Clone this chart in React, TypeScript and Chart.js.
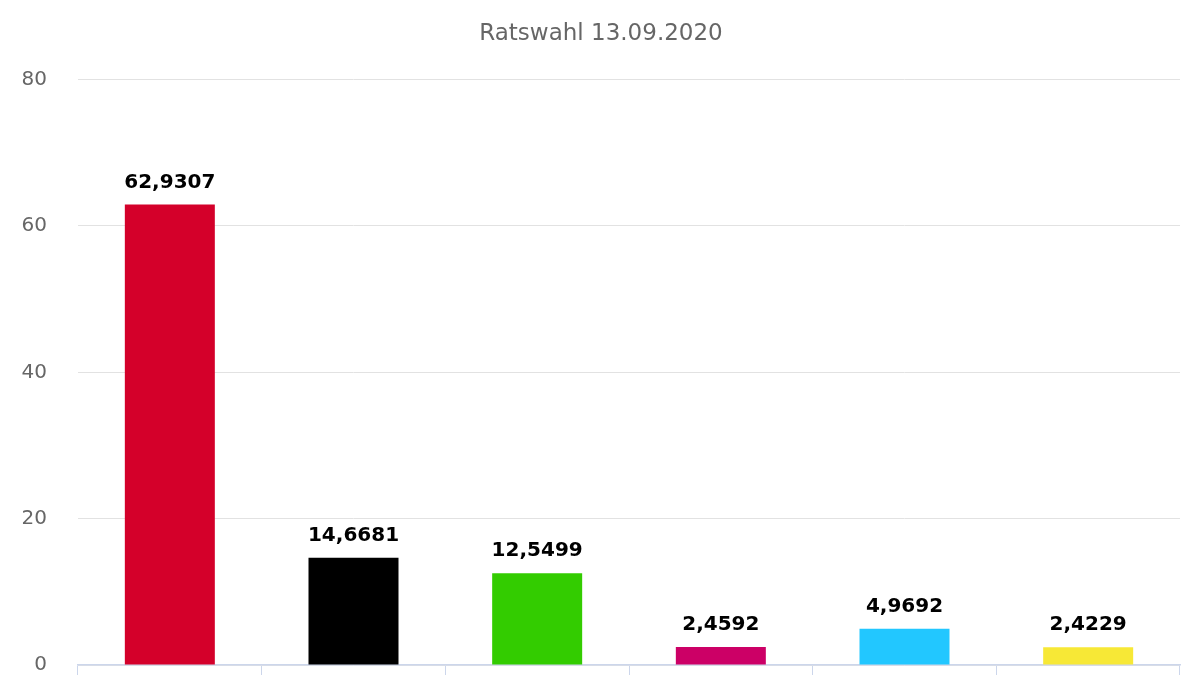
import React, { useEffect, useRef } from "react";
import { Chart, registerables } from "chart.js";

Chart.register(...registerables);

const categories = ["SPD", "CDU", "GRÜNE", "DIE LINKE", "Wählergemeinschaft", "FDP"];
const values = [62.9307, 14.6681, 12.5499, 2.4592, 4.9692, 2.4229];
const colors = ["#d4002a", "#000000", "#33cc00", "#cc0066", "#22c7ff", "#f7e836"];
const yTicks = [0, 20, 40, 60, 80];

const FONT = "'DejaVu Sans', Verdana, sans-serif";

// draws the value above each bar, German decimal comma
const valueLabels = {
  id: "valueLabels",
  afterDatasetsDraw(chart: Chart) {
    const ctx = chart.ctx;
    const meta = chart.getDatasetMeta(0);
    ctx.save();
    ctx.font = `bold 20px ${FONT}`;
    ctx.textAlign = "center";
    ctx.textBaseline = "bottom";
    ctx.fillStyle = "#000000";
    meta.data.forEach((bar: any, i: number) => {
      const text = values[i].toFixed(4).replace(".", ",");
      ctx.fillText(text, bar.x, bar.y - 12);
    });
    ctx.restore();
  },
};

const App: React.FC = () => {
  const chartRef = useRef<HTMLCanvasElement>(null);
  const chartInstance = useRef<Chart<"bar"> | null>(null);

  useEffect(() => {
    document.body.style.margin = "0";
    if (chartRef.current) {
      const ctx = chartRef.current.getContext("2d");
      if (ctx) {
        chartInstance.current = new Chart(ctx, {
          type: "bar",
          data: {
            labels: categories,
            datasets: [
              {
                label: "Ratswahl",
                data: values,
                backgroundColor: colors,
                borderWidth: 0,
                categoryPercentage: 1,
                barPercentage: 0.49,
              },
            ],
          },
          options: {
            responsive: true,
            maintainAspectRatio: false,
            animation: false,
            layout: { padding: { left: 22, right: 20, top: 0, bottom: 0 } },
            scales: {
              x: {
                afterFit: (axis: any) => {
                  axis.height = 10;
                  axis.paddingLeft = 0;
                  axis.paddingRight = 0;
                },
                grid: {
                  display: true,
                  offset: true,
                  drawOnChartArea: false,
                  drawTicks: true,
                  tickLength: 10,
                  color: "#ccd6eb",
                  lineWidth: 1,
                },
                border: { display: true, color: "#ccd6eb", width: 1.5 },
                ticks: { display: false },
              },
              y: {
                min: 0,
                max: 80,
                afterBuildTicks: (axis: any) => {
                  axis.ticks = yTicks.map((v) => ({ value: v }));
                },
                afterFit: (axis: any) => {
                  axis.width = 56;
                  axis.paddingTop = 0;
                  axis.paddingBottom = 0;
                },
                grid: { color: "#e2e2e2", drawTicks: false, lineWidth: 1 },
                border: { display: false },
                ticks: {
                  padding: 31,
                  color: "#666666",
                  font: { family: FONT, size: 20 },
                },
              },
            },
            plugins: {
              legend: { display: false },
              tooltip: { enabled: false },
              title: {
                display: true,
                text: "Ratswahl 13.09.2020",
                color: "#666666",
                font: { family: FONT, size: 23, weight: "normal" },
                padding: { top: 20, bottom: 32 },
              },
            },
          },
          plugins: [valueLabels],
        });
      }
    }

    return () => {
      if (chartInstance.current) {
        chartInstance.current.destroy();
      }
    };
  }, []);

  return (
    <div style={{ width: 1200, height: 675, position: "relative" }}>
      <canvas ref={chartRef} />
    </div>
  );
};

export default App;
